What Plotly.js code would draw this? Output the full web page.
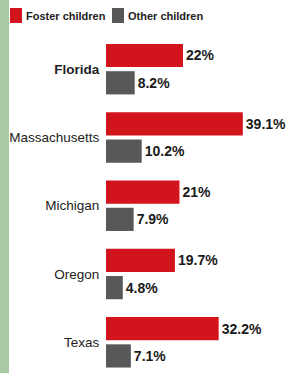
<!DOCTYPE html>
<html>
<head>
<meta charset="utf-8">
<script src="https://cdn.plot.ly/plotly-3.0.1.min.js"></script>
<style>
html,body{margin:0;padding:0;background:#fff;}
#chart{width:289px;height:373px;}
</style>
</head>
<body>
<div id="chart"></div>
<script>
var states = ["Florida", "Massachusetts", "Michigan", "Oregon", "Texas"];
var stateLabels = ["<b>Florida</b>", "Massachusetts", "Michigan", "Oregon", "Texas"];
var fosterChildren = [22, 39.1, 21, 19.7, 32.2];
var otherChildren = [8.2, 10.2, 7.9, 4.8, 7.1];
var seriesNames = ["Foster children", "Other children"];
var seriesColors = ["#d2141c", "#58585a"];

var FONT = "'Liberation Sans', Arial, sans-serif";
function pct(v){ return v + "%"; }

var traces = [
  {
    type: "bar", orientation: "h", name: seriesNames[0],
    y: states, x: fosterChildren,
    text: fosterChildren.map(pct), textposition: "outside",
    textfont: {family: FONT, size: 14, color: "#1a1a1a", weight: "bold"},
    marker: {color: seriesColors[0]}, cliponaxis: false, hoverinfo: "none",
    showlegend: false
  },
  {
    type: "bar", orientation: "h", name: seriesNames[1],
    y: states, x: otherChildren,
    text: otherChildren.map(pct), textposition: "outside",
    textfont: {family: FONT, size: 14, color: "#1a1a1a", weight: "bold"},
    marker: {color: seriesColors[1]}, cliponaxis: false, hoverinfo: "none",
    showlegend: false
  }
];

// pixel -> paper helpers (plot area: left 106, width 183, top 35, height 338)
var L = 106, W = 183, T = 35, H = 338;
function px(x){ return (x - L) / W; }
function py(y){ return 1 - (y - T) / H; }

var layout = {
  width: 289, height: 373,
  margin: {l: L, r: 289 - L - W, t: T, b: 373 - T - H, pad: 0, autoexpand: false},
  paper_bgcolor: "#fff", plot_bgcolor: "#fff",
  barmode: "group", bargap: 0.2, bargroupgap: 0.15,
  font: {family: FONT, color: "#222"},
  xaxis: {range: [0, 52.3], visible: false, fixedrange: true},
  yaxis: {
    range: [4.45, -0.5], type: "category",
    tickvals: states, ticktext: stateLabels,
    tickfont: {family: FONT, size: 13.5, color: "#222"},
    showgrid: false, zeroline: false, showline: false,
    ticks: "outside", ticklen: 3, tickcolor: "rgba(0,0,0,0)"
  },
  showlegend: false,
  shapes: [
    {type: "rect", xref: "paper", yref: "paper",
     x0: px(0), x1: px(9), y0: py(373), y1: py(0),
     fillcolor: "#a9c9a5", line: {width: 0}, layer: "below"},
    {type: "rect", xref: "paper", yref: "paper",
     x0: px(10), x1: px(22), y0: py(23), y1: py(8),
     fillcolor: seriesColors[0], line: {width: 0}},
    {type: "rect", xref: "paper", yref: "paper",
     x0: px(112), x1: px(124), y0: py(23), y1: py(8),
     fillcolor: seriesColors[1], line: {width: 0}}
  ],
  annotations: [
    {xref: "paper", yref: "paper", x: px(24), y: py(16), xanchor: "left", yanchor: "middle",
     text: "<b>" + seriesNames[0] + "</b>", showarrow: false,
     font: {family: FONT, size: 11, color: "#222"}},
    {xref: "paper", yref: "paper", x: px(126), y: py(16), xanchor: "left", yanchor: "middle",
     text: "<b>" + seriesNames[1] + "</b>", showarrow: false,
     font: {family: FONT, size: 11, color: "#222"}}
  ]
};

Plotly.newPlot("chart", traces, layout, {staticPlot: true, displayModeBar: false});
</script>
</body>
</html>
